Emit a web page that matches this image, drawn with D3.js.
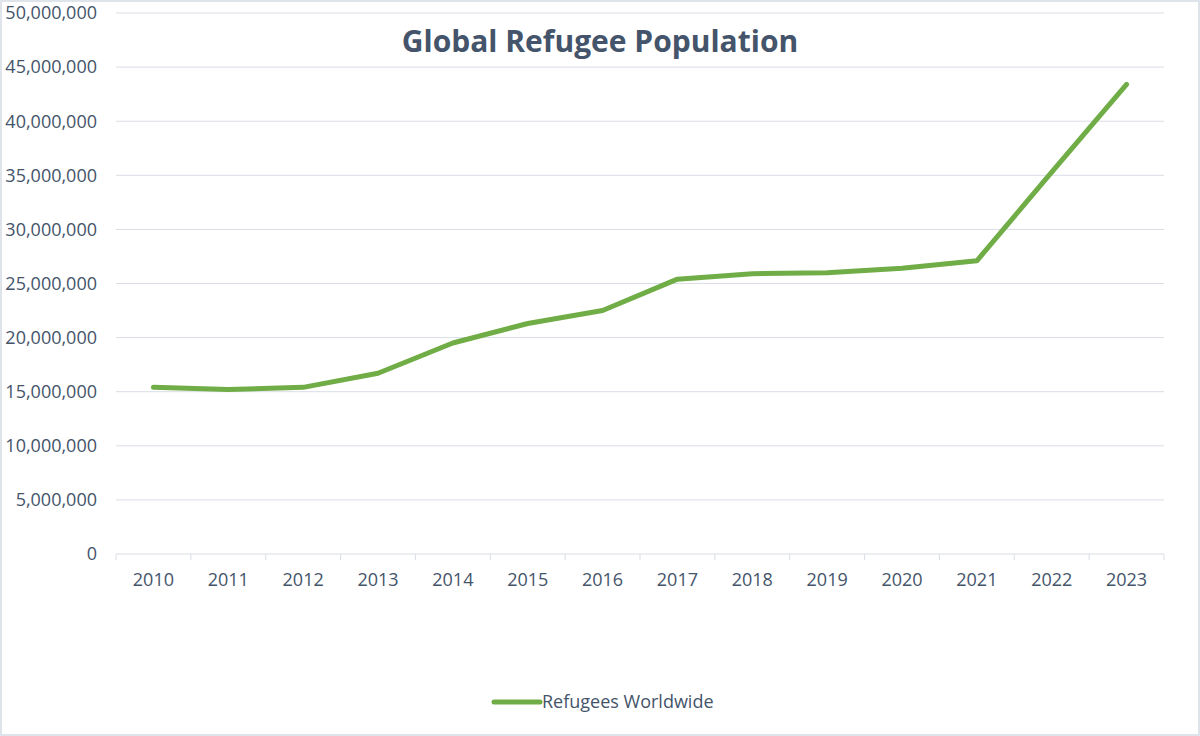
<!DOCTYPE html>
<html>
<head>
<meta charset="utf-8">
<script src="https://cdn.jsdelivr.net/npm/d3@7"></script>
<style>
	html, body { margin: 0; padding: 0; background: #fff; }
	svg text { font-family: 'Open Sans', 'Noto Sans', sans-serif; fill: #44546a; }
</style>
</head>
<body>
<div id="chart"></div>
<script>
// data
const years = ['2010', '2011', '2012', '2013', '2014', '2015', '2016', '2017', '2018', '2019', '2020', '2021', '2022', '2023'];
const refugees = [15400000, 15200000, 15400000, 16700000, 19500000, 21300000, 22500000, 25400000, 25900000, 26000000, 26400000, 27100000, 35300000, 43400000];
const yTickValues = [0, 5000000, 10000000, 15000000, 20000000, 25000000, 30000000, 35000000, 40000000, 45000000, 50000000];
const seriesName = 'Refugees Worldwide';
const chartTitle = 'Global Refugee Population';

const width = 1200,
	height = 736,
	margin = {top: 13, right: 36, bottom: 182, left: 116},
	lineColor = '#70ad47',
	gridColor = '#d9dde5';

const svg = d3.select('#chart').append('svg')
	.attr('width', width)
	.attr('height', height);

// outer frame
svg.append('rect')
	.attr('x', 1).attr('y', 1)
	.attr('width', width - 2).attr('height', height - 2)
	.style('fill', 'white')
	.style('stroke', '#dfe4eb')
	.style('stroke-width', 2);

const x = d3.scaleBand()
	.domain(years)
	.range([margin.left, width - margin.right]);

const y = d3.scaleLinear()
	.domain([0, 50000000])
	.range([height - margin.bottom, margin.top]);

// gridlines
svg.append('g')
	.selectAll('line')
	.data(yTickValues.slice(1))
	.enter().append('line')
		.attr('x1', margin.left)
		.attr('x2', width - margin.right)
		.attr('y1', d => y(d))
		.attr('y2', d => y(d))
		.style('stroke', gridColor)
		.style('stroke-width', 1);

// y labels
svg.append('g')
	.selectAll('text')
	.data(yTickValues)
	.enter().append('text')
		.attr('x', 97)
		.attr('y', d => y(d))
		.attr('dy', '0.35em')
		.attr('text-anchor', 'end')
		.style('font-size', '18px')
		.text(d => d3.format(',')(d));

// x axis
const xAxis = svg.append('g')
	.attr('transform', `translate(0, ${y(0)})`);

xAxis.append('line')
	.attr('x1', margin.left)
	.attr('x2', width - margin.right)
	.style('stroke', gridColor);

// tick marks sit on the band edges
xAxis.selectAll('.tick-mark')
	.data(years.concat(['end']))
	.enter().append('line')
		.attr('class', 'tick-mark')
		.attr('x1', (d, i) => margin.left + i * x.bandwidth())
		.attr('x2', (d, i) => margin.left + i * x.bandwidth())
		.attr('y1', 0)
		.attr('y2', 6)
		.style('stroke', gridColor);

xAxis.selectAll('.x-label')
	.data(years)
	.enter().append('text')
		.attr('class', 'x-label')
		.attr('x', d => x(d) + x.bandwidth() / 2)
		.attr('y', 32)
		.attr('text-anchor', 'middle')
		.style('font-size', '18px')
		.text(d => d);

// the line
const line = d3.line()
	.x((d, i) => x(years[i]) + x.bandwidth() / 2)
	.y(d => y(d));

svg.append('path')
	.datum(refugees)
	.attr('d', line)
	.style('fill', 'none')
	.style('stroke', lineColor)
	.style('stroke-width', 5)
	.style('stroke-linecap', 'round')
	.style('stroke-linejoin', 'round');

// title
svg.append('text')
	.attr('x', 600)
	.attr('y', 52)
	.attr('text-anchor', 'middle')
	.style('font-size', '30px')
	.style('font-weight', 'bold')
	.text(chartTitle);

// legend
const legend = svg.append('g')
	.attr('transform', 'translate(494, 702)');

legend.append('line')
	.attr('x1', 0)
	.attr('x2', 46)
	.style('stroke', lineColor)
	.style('stroke-width', 5)
	.style('stroke-linecap', 'round');

legend.append('text')
	.attr('x', 48)
	.attr('dy', '0.35em')
	.style('font-size', '18px')
	.text(seriesName);
</script>
</body>
</html>
